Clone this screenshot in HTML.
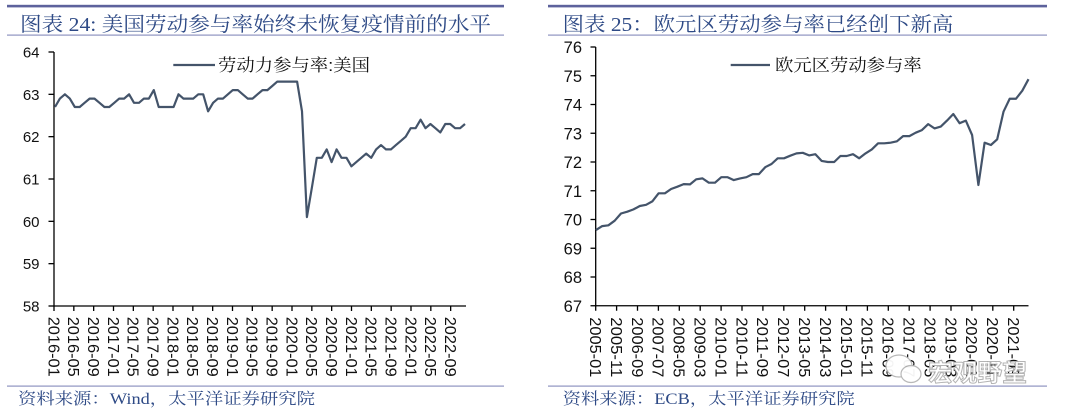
<!DOCTYPE html>
<html>
<head>
<meta charset="utf-8">
<style>
html,body{margin:0;padding:0;background:#fff;}
svg{display:block;}
.ttl{font-family:"Liberation Serif","Noto Serif CJK SC",serif;fill:#2e4a86;}
.src{font-family:"Liberation Serif","Noto Serif CJK SC",serif;fill:#2e4a86;font-size:16px;}
.leg{font-family:"Liberation Sans","Noto Serif CJK SC",serif;fill:#111;font-size:17px;}
.yl{font-family:"Liberation Sans",sans-serif;fill:#111;text-anchor:end;}
.xl{font-family:"Liberation Sans",sans-serif;fill:#111;font-size:16px;}
</style>
</head>
<body>
<svg width="1080" height="417" viewBox="0 0 1080 417" xmlns="http://www.w3.org/2000/svg">
<!-- ================= LEFT CHART ================= -->
<rect x="7" y="4.8" width="497" height="2.6" fill="#5d629c"/>
<text class="ttl" x="20" y="31" font-size="20" textLength="471" lengthAdjust="spacingAndGlyphs">图表 24: 美国劳动参与率始终未恢复疫情前的水平</text>
<rect x="7" y="34.5" width="497" height="1.2" fill="#8f93c0"/>

<!-- axes -->
<g stroke="#000" stroke-width="1.3" fill="none">
<line x1="54" y1="52" x2="54" y2="306.6"/>
<line x1="53.4" y1="306" x2="466" y2="306"/>
<line x1="48.5" y1="52" x2="54" y2="52"/>
<line x1="48.5" y1="94.33" x2="54" y2="94.33"/>
<line x1="48.5" y1="136.67" x2="54" y2="136.67"/>
<line x1="48.5" y1="179" x2="54" y2="179"/>
<line x1="48.5" y1="221.33" x2="54" y2="221.33"/>
<line x1="48.5" y1="263.67" x2="54" y2="263.67"/>
<line x1="48.5" y1="306" x2="54" y2="306"/>
<path d="M54 306v5 M73.83 306v5 M93.67 306v5 M113.5 306v5 M133.33 306v5 M153.17 306v5 M173 306v5 M192.83 306v5 M212.67 306v5 M232.5 306v5 M252.33 306v5 M272.17 306v5 M292 306v5 M311.83 306v5 M331.67 306v5 M351.5 306v5 M371.33 306v5 M391.17 306v5 M411 306v5 M430.83 306v5 M450.67 306v5"/>
</g>
<g class="yl" font-size="15">
<text x="39.5" y="57.5">64</text>
<text x="39.5" y="99.8">63</text>
<text x="39.5" y="142.2">62</text>
<text x="39.5" y="184.5">61</text>
<text x="39.5" y="226.8">60</text>
<text x="39.5" y="269.2">59</text>
<text x="39.5" y="311.5">58</text>
</g>
<g class="xl">
<text transform="translate(48.3,316.7) rotate(90)" textLength="60" lengthAdjust="spacingAndGlyphs">2016-01</text>
<text transform="translate(68.13,316.7) rotate(90)" textLength="60" lengthAdjust="spacingAndGlyphs">2016-05</text>
<text transform="translate(87.97,316.7) rotate(90)" textLength="60" lengthAdjust="spacingAndGlyphs">2016-09</text>
<text transform="translate(107.8,316.7) rotate(90)" textLength="60" lengthAdjust="spacingAndGlyphs">2017-01</text>
<text transform="translate(127.63,316.7) rotate(90)" textLength="60" lengthAdjust="spacingAndGlyphs">2017-05</text>
<text transform="translate(147.47,316.7) rotate(90)" textLength="60" lengthAdjust="spacingAndGlyphs">2017-09</text>
<text transform="translate(167.3,316.7) rotate(90)" textLength="60" lengthAdjust="spacingAndGlyphs">2018-01</text>
<text transform="translate(187.13,316.7) rotate(90)" textLength="60" lengthAdjust="spacingAndGlyphs">2018-05</text>
<text transform="translate(206.97,316.7) rotate(90)" textLength="60" lengthAdjust="spacingAndGlyphs">2018-09</text>
<text transform="translate(226.8,316.7) rotate(90)" textLength="60" lengthAdjust="spacingAndGlyphs">2019-01</text>
<text transform="translate(246.63,316.7) rotate(90)" textLength="60" lengthAdjust="spacingAndGlyphs">2019-05</text>
<text transform="translate(266.47,316.7) rotate(90)" textLength="60" lengthAdjust="spacingAndGlyphs">2019-09</text>
<text transform="translate(286.3,316.7) rotate(90)" textLength="60" lengthAdjust="spacingAndGlyphs">2020-01</text>
<text transform="translate(306.13,316.7) rotate(90)" textLength="60" lengthAdjust="spacingAndGlyphs">2020-05</text>
<text transform="translate(325.97,316.7) rotate(90)" textLength="60" lengthAdjust="spacingAndGlyphs">2020-09</text>
<text transform="translate(345.8,316.7) rotate(90)" textLength="60" lengthAdjust="spacingAndGlyphs">2021-01</text>
<text transform="translate(365.63,316.7) rotate(90)" textLength="60" lengthAdjust="spacingAndGlyphs">2021-05</text>
<text transform="translate(385.47,316.7) rotate(90)" textLength="60" lengthAdjust="spacingAndGlyphs">2021-09</text>
<text transform="translate(405.3,316.7) rotate(90)" textLength="60" lengthAdjust="spacingAndGlyphs">2022-01</text>
<text transform="translate(425.13,316.7) rotate(90)" textLength="60" lengthAdjust="spacingAndGlyphs">2022-05</text>
<text transform="translate(444.97,316.7) rotate(90)" textLength="60" lengthAdjust="spacingAndGlyphs">2022-09</text>
</g>

<!-- legend -->
<line x1="173.3" y1="65" x2="215" y2="65" stroke="#44546a" stroke-width="2.2"/>
<text class="leg" x="218" y="71" textLength="152" lengthAdjust="spacingAndGlyphs">劳动力参与率:美国</text>

<!-- series -->
<polyline fill="none" stroke="#44546a" stroke-width="2.2" stroke-linejoin="round" points="55,107.0 59.9,98.6 64.9,94.3 69.8,98.6 74.8,107.0 79.7,107.0 84.6,102.8 89.6,98.6 94.5,98.6 99.5,102.8 104.4,107.0 109.3,107.0 114.3,102.8 119.2,98.6 124.2,98.6 129.1,94.3 134.0,102.8 139.0,102.8 143.9,98.6 148.9,98.6 153.8,90.1 158.7,107.0 163.7,107.0 168.6,107.0 173.6,107.0 178.5,94.3 183.4,98.6 188.4,98.6 193.3,98.6 198.3,94.3 203.2,94.3 208.1,111.3 213.1,102.8 218.0,98.6 223.0,98.6 227.9,94.3 232.8,90.1 237.8,90.1 242.7,94.3 247.7,98.6 252.6,98.6 257.5,94.3 262.5,90.1 267.4,90.1 272.4,85.9 277.3,81.6 282.2,81.6 287.2,81.6 292.1,81.6 297.1,81.6 302.0,111.3 306.9,217.1 311.9,187.5 316.8,157.8 321.8,157.8 326.7,149.4 331.6,162.1 336.6,149.4 341.5,157.8 346.5,157.8 351.4,166.3 356.3,162.1 361.3,157.8 366.2,153.6 371.2,157.8 376.1,149.4 381.0,145.1 386.0,149.4 390.9,149.4 395.9,145.1 400.8,140.9 405.7,136.7 410.7,128.2 415.6,128.2 420.6,119.7 425.5,128.2 430.4,124.0 435.4,128.2 440.3,132.4 445.3,124.0 450.2,124.0 455.1,128.2 460.1,128.2 465.0,124.0"/>

<rect x="7" y="385.5" width="497" height="1.2" fill="#8f93c0"/>
<text class="src" x="18" y="404" textLength="297" lengthAdjust="spacingAndGlyphs">资料来源：Wind，太平洋证券研究院</text>

<!-- ================= RIGHT CHART ================= -->
<rect x="548" y="4.8" width="499" height="2.6" fill="#5d629c"/>
<text class="ttl" x="562.7" y="31" font-size="20" textLength="390.6" lengthAdjust="spacingAndGlyphs">图表 25：欧元区劳动参与率已经创下新高</text>
<rect x="548" y="34.5" width="499" height="1.2" fill="#8f93c0"/>

<g stroke="#000" stroke-width="1.3" fill="none">
<line x1="595.7" y1="47" x2="595.7" y2="306.4"/>
<line x1="595" y1="305.75" x2="1028.5" y2="305.75"/>
<line x1="590.5" y1="47" x2="595.7" y2="47"/>
<line x1="590.5" y1="75.75" x2="595.7" y2="75.75"/>
<line x1="590.5" y1="104.5" x2="595.7" y2="104.5"/>
<line x1="590.5" y1="133.25" x2="595.7" y2="133.25"/>
<line x1="590.5" y1="162" x2="595.7" y2="162"/>
<line x1="590.5" y1="190.75" x2="595.7" y2="190.75"/>
<line x1="590.5" y1="219.5" x2="595.7" y2="219.5"/>
<line x1="590.5" y1="248.25" x2="595.7" y2="248.25"/>
<line x1="590.5" y1="277" x2="595.7" y2="277"/>
<line x1="590.5" y1="305.75" x2="595.7" y2="305.75"/>
<path d="M595.7 305.75v5 M616.6 305.75v5 M637.5 305.75v5 M658.4 305.75v5 M679.3 305.75v5 M700.2 305.75v5 M721.1 305.75v5 M742 305.75v5 M762.9 305.75v5 M783.8 305.75v5 M804.7 305.75v5 M825.6 305.75v5 M846.5 305.75v5 M867.4 305.75v5 M888.3 305.75v5 M909.2 305.75v5 M930.1 305.75v5 M951 305.75v5 M971.9 305.75v5 M992.8 305.75v5 M1013.7 305.75v5"/>
</g>
<g class="yl" font-size="16.5">
<text x="582" y="53">76</text>
<text x="582" y="81.75">75</text>
<text x="582" y="110.5">74</text>
<text x="582" y="139.25">73</text>
<text x="582" y="168">72</text>
<text x="582" y="196.75">71</text>
<text x="582" y="225.5">70</text>
<text x="582" y="254.25">69</text>
<text x="582" y="283">68</text>
<text x="582" y="311.75">67</text>
</g>
<g class="xl">
<text transform="translate(590,317.3) rotate(90)" textLength="60" lengthAdjust="spacingAndGlyphs">2005-01</text>
<text transform="translate(610.9,317.3) rotate(90)" textLength="60" lengthAdjust="spacingAndGlyphs">2005-11</text>
<text transform="translate(631.8,317.3) rotate(90)" textLength="60" lengthAdjust="spacingAndGlyphs">2006-09</text>
<text transform="translate(652.7,317.3) rotate(90)" textLength="60" lengthAdjust="spacingAndGlyphs">2007-07</text>
<text transform="translate(673.6,317.3) rotate(90)" textLength="60" lengthAdjust="spacingAndGlyphs">2008-05</text>
<text transform="translate(694.5,317.3) rotate(90)" textLength="60" lengthAdjust="spacingAndGlyphs">2009-03</text>
<text transform="translate(715.4,317.3) rotate(90)" textLength="60" lengthAdjust="spacingAndGlyphs">2010-01</text>
<text transform="translate(736.3,317.3) rotate(90)" textLength="60" lengthAdjust="spacingAndGlyphs">2010-11</text>
<text transform="translate(757.2,317.3) rotate(90)" textLength="60" lengthAdjust="spacingAndGlyphs">2011-09</text>
<text transform="translate(778.1,317.3) rotate(90)" textLength="60" lengthAdjust="spacingAndGlyphs">2012-07</text>
<text transform="translate(799,317.3) rotate(90)" textLength="60" lengthAdjust="spacingAndGlyphs">2013-05</text>
<text transform="translate(819.9,317.3) rotate(90)" textLength="60" lengthAdjust="spacingAndGlyphs">2014-03</text>
<text transform="translate(840.8,317.3) rotate(90)" textLength="60" lengthAdjust="spacingAndGlyphs">2015-01</text>
<text transform="translate(861.7,317.3) rotate(90)" textLength="60" lengthAdjust="spacingAndGlyphs">2015-11</text>
<text transform="translate(882.6,317.3) rotate(90)" textLength="60" lengthAdjust="spacingAndGlyphs">2016-09</text>
<text transform="translate(903.5,317.3) rotate(90)" textLength="60" lengthAdjust="spacingAndGlyphs">2017-07</text>
<text transform="translate(924.4,317.3) rotate(90)" textLength="60" lengthAdjust="spacingAndGlyphs">2018-05</text>
<text transform="translate(945.3,317.3) rotate(90)" textLength="60" lengthAdjust="spacingAndGlyphs">2019-03</text>
<text transform="translate(966.2,317.3) rotate(90)" textLength="60" lengthAdjust="spacingAndGlyphs">2020-01</text>
<text transform="translate(987.1,317.3) rotate(90)" textLength="60" lengthAdjust="spacingAndGlyphs">2020-11</text>
<text transform="translate(1008,317.3) rotate(90)" textLength="60" lengthAdjust="spacingAndGlyphs">2021-09</text>
</g>

<line x1="730.7" y1="65" x2="770" y2="65" stroke="#44546a" stroke-width="2.2"/>
<text class="leg" x="775" y="71" textLength="146.7" lengthAdjust="spacingAndGlyphs">欧元区劳动参与率</text>

<polyline fill="none" stroke="#44546a" stroke-width="2.2" stroke-linejoin="round" points="595.9,230.1 602.2,226.1 608.4,225.3 614.7,220.7 621.0,213.5 627.3,211.7 633.5,209.4 639.8,206.0 646.1,204.8 652.3,201.4 658.6,193.3 664.9,193.3 671.1,189.0 677.4,186.7 683.7,184.1 690.0,184.4 696.2,179.3 702.5,178.4 708.8,182.7 715.0,182.7 721.3,177.2 727.6,177.2 733.8,180.1 740.1,178.4 746.4,177.2 752.7,174.1 758.9,174.1 765.2,167.2 771.5,164.0 777.7,158.3 784.0,158.3 790.3,155.7 796.5,153.4 802.8,152.8 809.1,155.4 815.4,154.2 821.6,160.9 827.9,162.0 834.2,162.0 840.4,156.0 846.7,156.0 853.0,154.2 859.2,158.3 865.5,153.4 871.8,149.4 878.1,143.3 884.3,143.3 890.6,142.7 896.9,141.3 903.1,136.1 909.4,136.1 915.7,132.7 921.9,130.1 928.2,124.1 934.5,128.4 940.8,126.6 947.0,120.6 953.3,114.0 959.6,123.2 965.8,120.6 972.1,135.0 978.4,185.0 984.6,142.7 990.9,145.0 997.2,139.3 1003.5,111.7 1009.7,98.75 1016.0,98.75 1022.3,90.7 1028.5,79.2"/>

<!-- watermark -->
<g fill="#ffffff" stroke="#b5b5b5" stroke-width="1.2" opacity="0.95">
<ellipse cx="899" cy="366" rx="13" ry="11"/>
<ellipse cx="911" cy="374" rx="10" ry="8.5"/>
</g>
<text x="928" y="381" font-family="'Liberation Sans','Noto Sans CJK SC',sans-serif" font-size="24" font-weight="bold" fill="#ffffff" stroke="#b0b0b0" stroke-width="1" textLength="99" lengthAdjust="spacingAndGlyphs" opacity="0.95">宏观野望</text>

<rect x="548" y="385.5" width="499" height="1.2" fill="#8f93c0"/>
<text class="src" x="562.7" y="404" textLength="292" lengthAdjust="spacingAndGlyphs">资料来源：ECB，太平洋证券研究院</text>
</svg>
</body>
</html>
